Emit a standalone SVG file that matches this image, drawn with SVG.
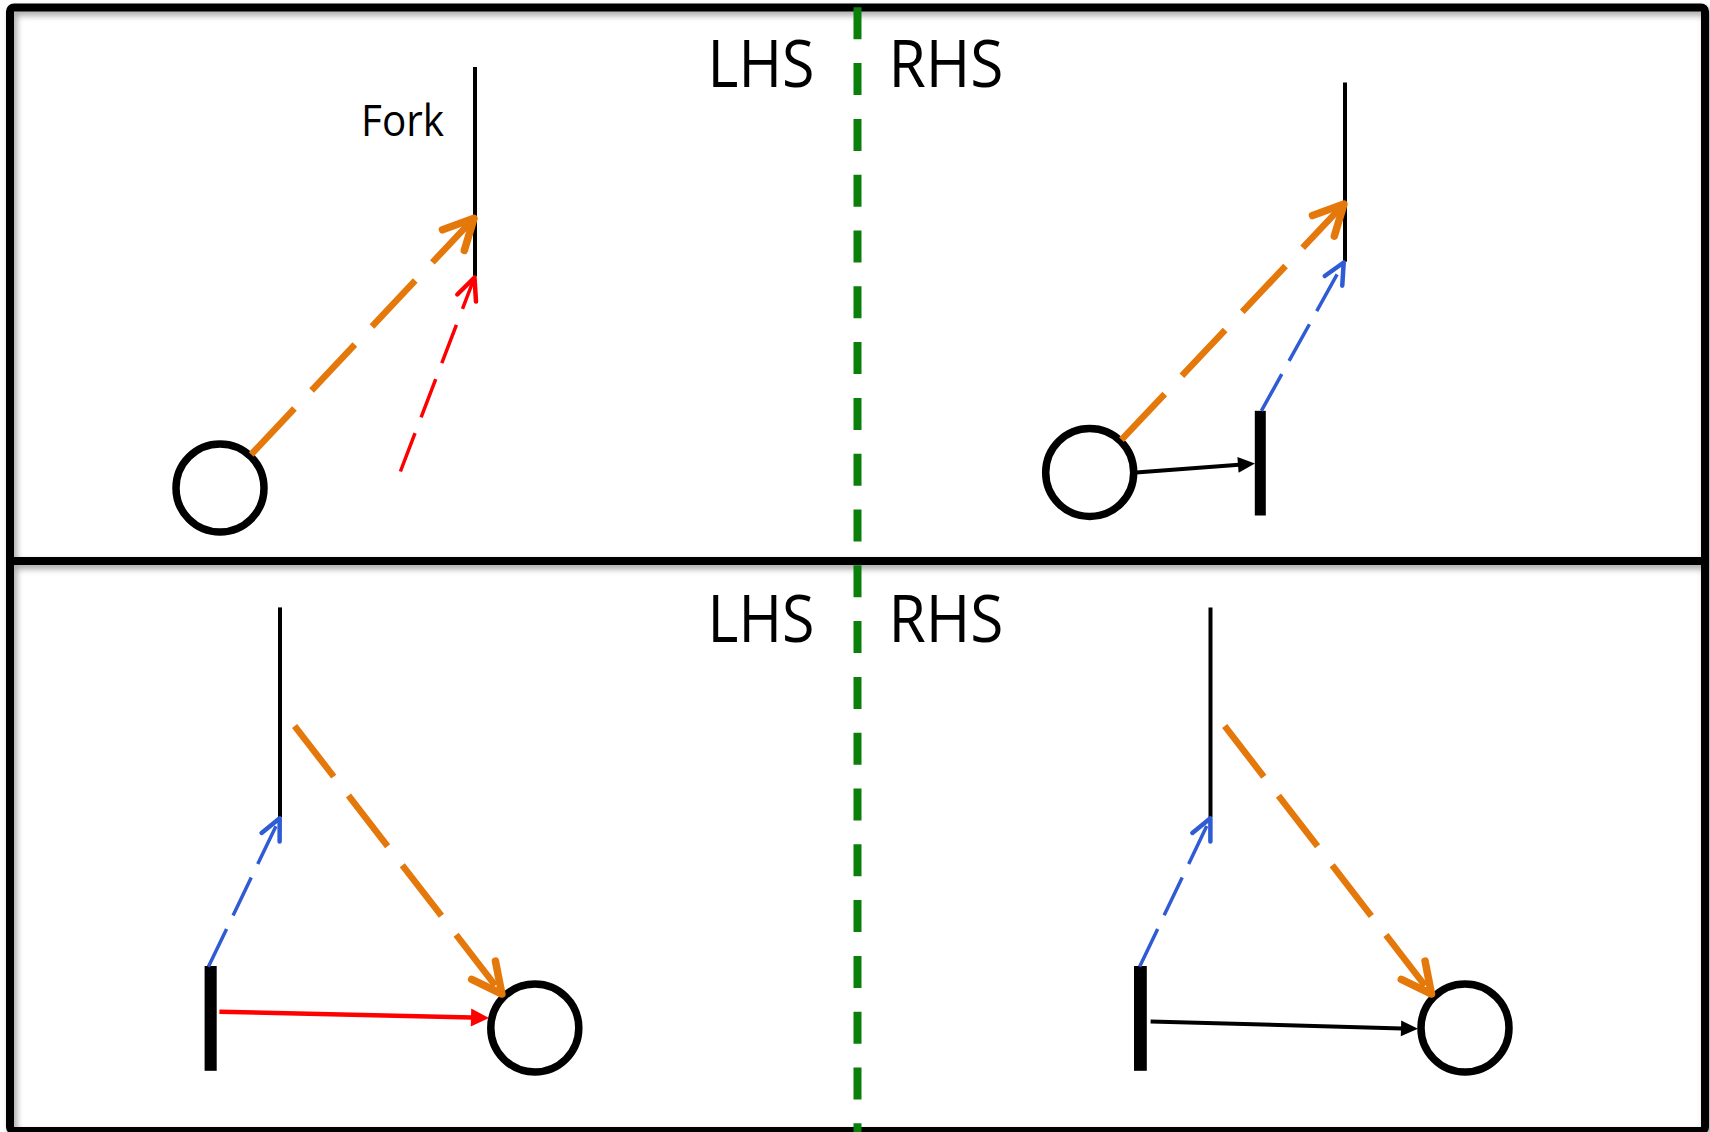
<svg xmlns="http://www.w3.org/2000/svg" width="1710" height="1132" viewBox="0 0 1710 1132">
  <style>
    .frame { fill: none; stroke: #000; stroke-width: 8; }
    .fork { stroke: #000; stroke-width: 4; fill: none; }
    .bar { fill: #000; }
    .place { fill: #fff; stroke: #000; stroke-width: 7.5; }
    .label { font-family: "Open Sans", "Noto Sans", "Liberation Sans", sans-serif; fill: #000; }
    .big { font-size: 66px; }
    .small { font-size: 43px; }
    .orange { stroke: #E5780A; stroke-width: 6.5; fill: none; stroke-dasharray: 63 25; }
    .red-d { stroke: #FF0000; stroke-width: 3.5; fill: none; stroke-dasharray: 41 17; }
    .blue-d { stroke: #2F5CD4; stroke-width: 3.5; fill: none; stroke-dasharray: 42 15; }
    .solid-k { stroke: #000; stroke-width: 4; fill: none; }
    .solid-r { stroke: #FF0000; stroke-width: 4.5; fill: none; }
    .divider { stroke: #0A7F0A; stroke-width: 8; stroke-dasharray: 32 23.8; fill: none; }
  </style>
  <defs>
    <filter id="shadow" x="-5%" y="-5%" width="110%" height="110%">
      <feDropShadow dx="3" dy="4" stdDeviation="3" flood-color="#000" flood-opacity="0.35"/>
    </filter>
    <marker id="ah-orange" markerUnits="userSpaceOnUse" orient="auto" overflow="visible" markerWidth="80" markerHeight="80" refX="0" refY="0">
      <path d="M-30,-15 L0,0 L-30,15" fill="none" stroke="#E5780A" stroke-width="7.5" stroke-linecap="round" stroke-linejoin="round" stroke-dasharray="none"/>
    </marker>
    <marker id="ah-red" markerUnits="userSpaceOnUse" orient="auto" overflow="visible" markerWidth="60" markerHeight="60" refX="0" refY="0">
      <path d="M-22,-10 L0,0 L-22,10" fill="none" stroke="#FF0000" stroke-width="4.5" stroke-linecap="round" stroke-linejoin="round" stroke-dasharray="none"/>
    </marker>
    <marker id="ah-blue" markerUnits="userSpaceOnUse" orient="auto" overflow="visible" markerWidth="60" markerHeight="60" refX="0" refY="0">
      <path d="M-21,-10 L0,0 L-21,10" fill="none" stroke="#2F5CD4" stroke-width="4.5" stroke-linecap="round" stroke-linejoin="round" stroke-dasharray="none"/>
    </marker>
    <marker id="ah-black" markerUnits="userSpaceOnUse" orient="auto" overflow="visible" markerWidth="40" markerHeight="40" refX="0" refY="0">
      <path d="M-1,-8 L16,0 L-1,8 Z" fill="#000" stroke="none"/>
    </marker>
    <marker id="ah-redfill" markerUnits="userSpaceOnUse" orient="auto" overflow="visible" markerWidth="40" markerHeight="40" refX="0" refY="0">
      <path d="M-1,-9 L17,0 L-1,9 Z" fill="#FF0000" stroke="none"/>
    </marker>
  </defs>

  <rect width="1710" height="1132" fill="#fff"/>

  <g id="frame" filter="url(#shadow)">
    <rect class="frame" x="10" y="7.5" width="1695" height="1123.5" rx="4"/>
    <line class="frame" x1="10" y1="561" x2="1705" y2="561"/>
  </g>

  <g id="divider">
    <line class="divider" x1="857.5" y1="7.3" x2="857.5" y2="1132"/>
  </g>

  <g id="labels">
    <text class="label big" x="707.5" y="86.5" textLength="107" lengthAdjust="spacingAndGlyphs">LHS</text>
    <text class="label big" x="888.5" y="86.5" textLength="115" lengthAdjust="spacingAndGlyphs">RHS</text>
    <text class="label big" x="707.5" y="642" textLength="107" lengthAdjust="spacingAndGlyphs">LHS</text>
    <text class="label big" x="888.5" y="642" textLength="115" lengthAdjust="spacingAndGlyphs">RHS</text>
  </g>

  <!-- Top-left -->
  <g id="tl-fork">
    <line class="fork" x1="475" y1="67" x2="475" y2="276.5"/>
    <text class="label small" x="361" y="136.3" textLength="83" lengthAdjust="spacingAndGlyphs">Fork</text>
  </g>
  <g id="tl-circle">
    <circle class="place" cx="220" cy="488" r="44"/>
  </g>

  <!-- Top-right -->
  <g id="tr-fork">
    <line class="fork" x1="1345" y1="82.5" x2="1345" y2="261.7"/>
  </g>
  <g id="tr-circle">
    <circle class="place" cx="1089.7" cy="472.5" r="44"/>
  </g>
  <g id="tr-bar">
    <rect class="bar" x="1254.8" y="410.8" width="11" height="104.7"/>
  </g>

  <!-- Bottom-left -->
  <g id="bl-fork">
    <line class="fork" x1="280" y1="607.4" x2="280" y2="817.2"/>
  </g>
  <g id="bl-bar">
    <rect class="bar" x="204.6" y="966" width="12.1" height="104.8"/>
  </g>
  <g id="bl-circle">
    <circle class="place" cx="534.8" cy="1028" r="44"/>
  </g>

  <!-- Bottom-right -->
  <g id="br-fork">
    <line class="fork" x1="1210.5" y1="607.4" x2="1210.5" y2="817.2"/>
  </g>
  <g id="br-bar">
    <rect class="bar" x="1134" y="966" width="12.8" height="104.8"/>
  </g>
  <g id="br-circle">
    <circle class="place" cx="1465" cy="1028" r="44"/>
  </g>

  <g id="connectors">
    <!-- top-left -->
    <line class="orange" x1="251.2" y1="454.4" x2="474" y2="218.3" marker-end="url(#ah-orange)"/>
    <line class="red-d" x1="400.4" y1="471.5" x2="474.5" y2="277.5" marker-end="url(#ah-red)"/>
    <!-- top-right -->
    <line class="orange" x1="1121.5" y1="439.8" x2="1344" y2="204" marker-end="url(#ah-orange)"/>
    <line class="blue-d" x1="1261.4" y1="410.8" x2="1343.7" y2="262.5" marker-end="url(#ah-blue)"/>
    <line class="solid-k" x1="1136" y1="472.6" x2="1239" y2="464.8" marker-end="url(#ah-black)"/>
    <!-- bottom-left -->
    <line class="blue-d" x1="208.4" y1="966.8" x2="279.7" y2="818.3" marker-end="url(#ah-blue)"/>
    <line class="orange" x1="294.6" y1="726" x2="501.9" y2="994" marker-end="url(#ah-orange)" style="stroke-dasharray:64 24"/>
    <line class="solid-r" x1="219.4" y1="1011.7" x2="472" y2="1017.5" marker-end="url(#ah-redfill)"/>
    <!-- bottom-right -->
    <line class="blue-d" x1="1139.6" y1="966.8" x2="1210.4" y2="818.3" marker-end="url(#ah-blue)"/>
    <line class="orange" x1="1224.7" y1="726" x2="1431.5" y2="994" marker-end="url(#ah-orange)" style="stroke-dasharray:64 24"/>
    <line class="solid-k" x1="1150.6" y1="1021.5" x2="1402" y2="1028.4" marker-end="url(#ah-black)"/>
  </g>
</svg>
